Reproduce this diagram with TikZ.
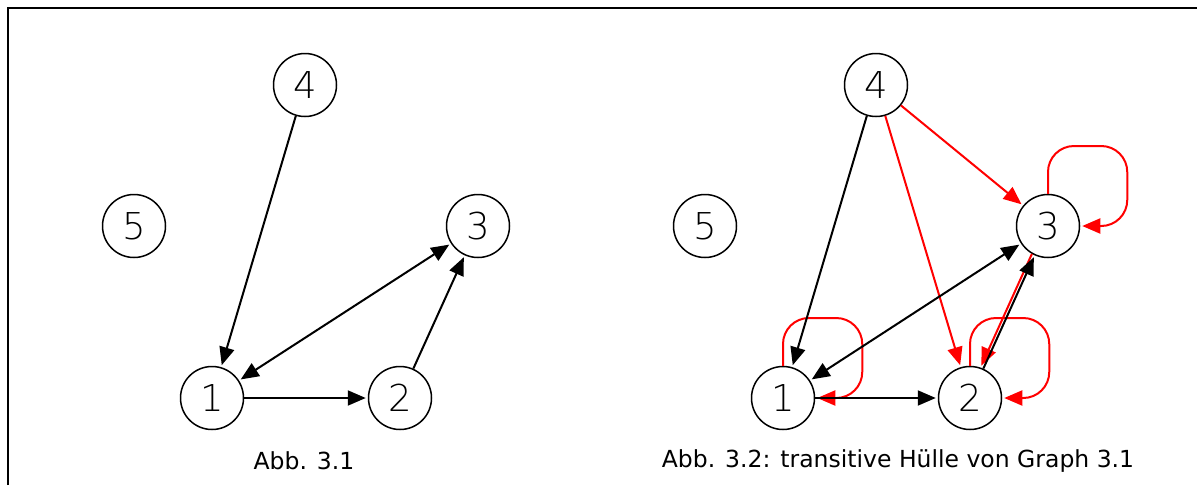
\documentclass[tikz,border=0pt]{standalone}
\usepackage{fontspec}
\setmainfont{DejaVu Sans}
\newfontfamily\ziffern{DejaVu Sans ExtraLight}
\usetikzlibrary{arrows.meta}

\tikzset{>={Triangle[length=18pt,width=15pt]}}

\begin{document}
\begin{tikzpicture}[x=1pt, y=-1pt,
    knoten/.style={draw, circle, minimum size=63pt, inner sep=0pt, line width=1.5pt, font=\ziffern\fontsize{37}{37}\selectfont},
    kante/.style={line width=2pt, ->, shorten >=2pt},
    beide/.style={line width=2pt, <->, shorten >=2pt, shorten <=2pt},
    huelle/.style={kante, red},
    schleife/.style={huelle, rounded corners=26pt},
    titel/.style={font=\fontsize{23.5}{24}\selectfont}]
    \useasboundingbox (0,0) rectangle (1197,485);
    \draw[line width=2pt] (8,485) -- (8,8) -- (1197,8);

    % Graph 3.1
    \node[knoten] (l1) at (212,398) {1};
    \node[knoten] (l2) at (400,398) {2};
    \node[knoten] (l3) at (478,226) {3};
    \node[knoten] (l4) at (305,85) {4};
    \node[knoten] (l5) at (134,226) {5};
    \draw[kante] (l4) -- (l1);
    \draw[beide] (l1) -- (l3);
    \draw[kante] (l2) -- (l3);
    \draw[kante] (l1) -- (l2);
    \node[titel] (t1) at (304,461) {Abb. 3.1};

    % transitive Huelle
    \node[knoten] (r1) at (783,398) {1};
    \node[knoten] (r2) at (970,398) {2};
    \node[knoten] (r3) at (1048,226) {3};
    \node[knoten] (r4) at (876,85) {4};
    \node[knoten] (r5) at (705,226) {5};
    \draw[huelle] (r4) -- (r3);
    \draw[huelle] (r4) -- (r2);
    \draw[huelle] (r3.-120) -- (r2.71);
    \draw[schleife] (r1.north) |- ([shift={(47,-80)}]r1.east) |- (r1.east);
    \draw[schleife] (r2.north) |- ([shift={(47,-80)}]r2.east) |- (r2.east);
    \draw[schleife] (r3.north) |- ([shift={(47,-80)}]r3.east) |- (r3.east);
    \draw[kante] (r4) -- (r1);
    \draw[beide] (r1) -- (r3);
    \draw[kante] (r2) -- (r3);
    \draw[kante] (r1) -- (r2);
    \node[titel] (t2) at (898,461) {Abb. 3.2: transitive Hülle von Graph 3.1};
\end{tikzpicture}
\end{document}
